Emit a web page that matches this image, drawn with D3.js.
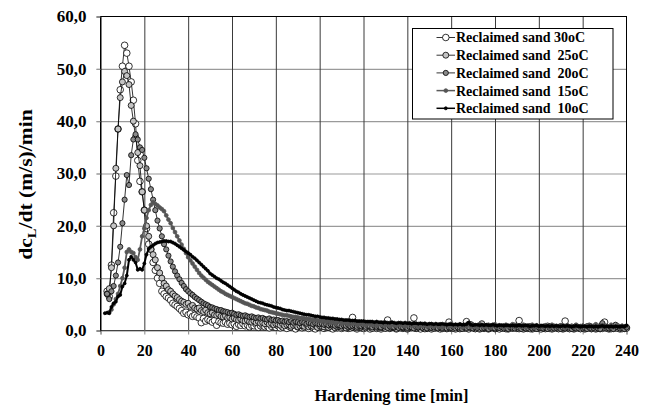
<!DOCTYPE html>
<meta charset="utf-8">
<style>

body {
  margin: 0;
  background: #fff;
}

svg {
  font-family: "Liberation Serif", "Times New Roman", serif;
  font-weight: bold;
}

.axis text {
  fill: #000;
  font-family: "Liberation Serif", "Times New Roman", serif;
  font-weight: bold;
}

.x.axis text {
  font-size: 16px;
}

.y.axis text {
  font-size: 17px;
}

.grid text {
  display: none;
}

.grid path {
  stroke: none;
}

.legend text {
  font-size: 14px;
  white-space: pre;
}

</style>
<body>
<script src="https://cdn.jsdelivr.net/npm/d3@7"></script>
<script>

// dc_L/dt readings, one value per minute, starting at the given minute
var start30 = 3;
var sand30 = [
  7.5, 6.5, 12.5, 22.5, 29.5, 38.5, 46, 50.5, 54.5, 53,
  50.5, 47.5, 44, 39.5, 32.5, 28.5, 26.5, 23, 19.5, 16.5,
  15.5, 13, 11.5, 10, 9, 7.5, 7, 6.5, 6.2, 5.8,
  5.2, 4.9, 4.6, 4.2, 3.8, 3.3, 3.5, 3.0, 3.2, 2.7,
  2.9, 2.6, 2.4, 1.5, 2.3, 1.8, 2.1, 1.9, 1.6, 1.9,
  1.0, 1.7, 1.5, 1.4, 1.6, 1.2, 1.4, 1.1, 1.3, 0.8,
  1.2, 1.0, 1.3, 0.9, 1.1, 0.7, 1.0, 0.9, 1.2, 0.6,
  0.9, 1.0, 0.7, 0.9, 0.5, 0.8, 1.0, 0.6,
  0.9, 0.5, 0.7, 1.1, 0.4, 0.8, 0.6, 0.9, 0.3, 0.7, 1.0, 0.5, 0.6, 0.8, 0.4, 0.9, 0.5, 0.3, 0.7, 0.6,
  0.8, 0.4, 0.6, 0.9, 0.5, 0.3, 0.7, 0.5, 0.8, 0.4, 0.6, 0.9, 0.4, 0.5, 2.5, 0.6, 0.3, 0.7, 0.5, 0.4,
  0.8, 0.6, 0.3, 0.5, 0.9, 0.4, 0.6, 0.3, 0.7, 0.5, 2.0, 0.4, 0.6, 0.8, 0.3, 0.5, 0.7, 0.4, 0.6, 0.3,
  0.5, 0.8, 2.4, 0.4, 0.6, 0.3, 0.7, 0.5, 0.4, 0.8, 0.3, 0.6, 0.5, 0.7, 0.3, 0.4, 0.6, 0.8, 1.6, 0.4,
  0.5, 0.3, 0.7, 0.4, 0.6, 0.5, 1.7, 0.3, 0.6, 0.8, 0.4, 0.5, 0.3, 0.7, 0.4, 0.6, 0.3, 0.5, 0.8, 0.4,
  0.6, 0.3, 0.5, 0.7, 0.4, 0.3, 0.6, 0.5, 0.8, 0.4, 1.9, 0.5, 0.3, 0.6, 0.4, 0.7, 0.3, 0.5, 0.6, 0.4,
  0.3, 0.6, 0.5, 0.8, 0.4, 0.3, 0.6, 0.5, 0.4, 0.7, 0.3, 1.8, 0.5, 0.4, 0.6, 0.3, 0.7, 0.5, 0.4, 0.6,
  0.3, 0.5, 0.8, 0.4, 0.6, 0.3, 0.5, 0.7, 0.4, 1.6, 0.5, 0.3, 0.6, 0.4, 0.7, 0.5, 0.3, 0.6, 0.4, 0.5
];

var start25 = 3;
var sand25 = [
  7, 8, 12, 20, 31, 38.5, 44.5, 47.5, 49.5, 48.7,
  47, 43, 40, 37, 34, 31.5, 26.5, 23, 20, 18,
  15.5, 14.5, 13.5, 12, 11, 10, 9, 8.5, 7.8, 7.5,
  7, 6.6, 6.3, 5.9, 5.6, 5.4, 5.0, 5.2, 4.6, 4.8,
  4.3, 4.1, 4.3, 3.8, 3.6, 3.9, 3.4, 3.2, 3.4, 3.0,
  2.9, 3.1, 2.7, 2.6, 2.8, 2.4, 2.5, 2.2, 2.4, 2.1,
  2.0, 2.2, 1.9, 1.8, 2.0, 1.7, 1.6, 1.8, 1.5, 1.7,
  1.4, 1.5, 1.3, 1.6, 1.2, 1.4, 1.1, 1.3,
  1.2, 1.0, 1.3, 0.9, 1.1, 1.2, 0.8, 1.0, 1.1, 0.7, 0.9, 1.0, 0.8, 1.1, 0.7, 0.9, 0.8, 1.0, 0.6, 0.9,
  0.8, 0.7, 1.0, 0.6, 0.8, 0.9, 0.5, 0.7, 0.8, 0.6, 0.9, 0.5, 0.7, 0.8, 0.6, 0.7, 0.5, 0.8, 0.6, 0.7,
  0.5, 0.8, 0.6, 0.4, 0.7, 0.6, 0.8, 0.5, 0.6, 0.4, 0.7, 0.5, 0.8, 0.6, 0.4, 0.7, 0.5, 0.6, 0.8, 0.4,
  0.6, 0.5, 0.7, 0.4, 0.6, 0.8, 0.5, 0.3, 0.6, 0.7, 0.5, 0.4, 0.6, 0.5, 0.8, 0.4, 0.6, 0.3, 0.5, 0.7,
  0.4, 0.6, 0.5, 0.3, 0.7, 0.5, 0.4, 1.2, 0.6, 0.5, 0.3, 0.6, 0.4, 1.3, 0.5, 0.7, 0.4, 0.5, 0.6, 0.3,
  0.5, 0.7, 0.4, 0.6, 0.3, 0.5, 0.6, 0.4, 0.7, 0.5, 0.3, 0.6, 0.5, 0.4, 0.7, 0.3, 0.5, 0.6, 0.4, 0.5,
  0.6, 0.4, 0.3, 0.5, 0.7, 0.4, 0.6, 0.5, 0.3, 0.6, 0.4, 0.5, 0.7, 0.3, 0.5, 0.4, 0.6, 0.5, 0.3, 0.6,
  0.4, 0.5, 0.7, 0.3, 0.6, 0.4, 0.5, 0.3, 1.1, 0.6, 0.4, 0.5, 0.3, 0.6, 0.5, 0.4, 0.6, 0.3, 0.5, 0.4
];

var start20 = 3;
var sand20 = [
  7, 6, 7.5, 8.5, 10.5, 13, 16, 20.5, 25, 29.7,
  27.8, 33.5, 36.5, 37.5, 36.5, 35, 34.5, 33, 31, 29,
  27, 25, 23, 21, 19.5, 18, 16.5, 15.5, 14.3, 13.2,
  12.2, 11.3, 10.5, 9.8, 9.1, 8.5, 7.9, 7.5, 7.1, 6.8,
  6.4, 6.1, 5.8, 5.5, 5.2, 5.0, 4.8, 4.5, 4.4, 4.2,
  4.1, 3.9, 3.9, 3.7, 3.6, 3.5, 3.3, 3.4, 3.2, 3.0,
  3.1, 2.9, 2.8, 2.9, 2.7, 2.6, 2.7, 2.5, 2.4, 2.5,
  2.3, 2.4, 2.2, 2.1, 2.3, 2.0, 2.1, 1.9,
  2.0, 1.8, 1.9, 1.7, 1.8, 1.6, 1.8, 1.5, 1.7, 1.6, 1.4, 1.6, 1.5, 1.3, 1.5, 1.4, 1.2, 1.4, 1.3, 1.2,
  1.3, 1.1, 1.2, 1.0, 1.2, 1.1, 0.9, 1.1, 1.0, 0.8, 1.0, 0.9, 1.1, 0.8, 0.9, 1.0, 0.7, 0.9, 0.8, 1.0,
  0.7, 0.9, 0.8, 0.6, 0.9, 0.7, 0.8, 0.6, 0.9, 0.7, 0.5, 0.8, 0.7, 0.6, 0.8, 0.5, 0.7, 0.6, 0.8, 0.5,
  0.7, 0.6, 0.4, 0.7, 0.6, 0.8, 0.5, 0.6, 0.4, 0.7, 0.5, 0.6, 0.8, 0.4, 0.6, 0.5, 0.7, 0.4, 0.6, 0.5,
  0.7, 0.4, 0.6, 0.5, 0.3, 0.6, 0.5, 0.7, 1.2, 0.4, 0.6, 0.5, 0.7, 0.4, 0.5, 0.6, 0.3, 0.6, 0.5, 0.4,
  0.6, 0.5, 0.7, 0.4, 0.5, 0.3, 0.6, 0.5, 0.4, 0.7, 0.5, 0.3, 0.6, 0.4, 0.5, 0.7, 0.4, 0.5, 0.3, 0.6,
  0.5, 0.4, 0.6, 0.3, 0.5, 0.7, 0.4, 0.5, 0.6, 0.3, 0.5, 0.4, 0.6, 0.5, 0.3, 0.6, 0.4, 0.5, 0.7, 0.4,
  0.5, 0.3, 0.6, 0.4, 0.5, 0.7, 0.4, 0.3, 1.4, 0.5, 0.6, 0.4, 0.5, 0.3, 1.1, 0.6, 0.4, 0.5, 0.3, 0.6
];

var start15 = 4;
var sand15 = [
  3.5, 4, 5, 6, 7, 8.5, 10, 12, 15, 15.5,
  15, 14.8, 14, 13.5, 15.5, 18, 19.5, 21.5, 23, 24,
  24.5, 24.2, 23.9, 23.5, 23.2, 22.8, 22, 21.2, 20.5, 19.6,
  18.8, 18, 17.2, 16.4, 15.6, 14.8, 14.0, 13.4, 12.8, 12.2,
  11.6, 11.0, 10.5, 10.1, 9.7, 9.3, 9.0, 8.7, 8.4, 8.1,
  7.8, 7.5, 7.3, 7.0, 6.8, 6.6, 6.4, 6.2, 6.0, 5.8,
  5.6, 5.4, 5.2, 5.1, 4.9, 4.7, 4.6, 4.4, 4.3, 4.1,
  4.0, 3.9, 3.8, 3.6, 3.5, 3.4, 3.3, 3.2, 3.1, 3.0,
  2.9, 2.9, 2.8, 2.7, 2.6, 2.6, 2.5, 2.4, 2.4, 2.3,
  2.2, 2.2, 2.1, 2.0, 2.1, 1.9, 1.9, 1.8, 1.9, 1.7,
  1.9, 1.5, 1.8, 1.4, 1.7, 1.9, 1.3, 1.6, 1.5, 1.2,
  1.6, 1.3, 1.5, 1.1, 1.4, 1.6, 1.2, 1.0, 1.4, 1.3,
  1.1, 1.4, 0.9, 1.3, 1.2, 1.5, 1.0, 1.2, 0.8, 1.3,
  1.1, 0.9, 1.3, 1.0, 1.2, 0.8, 1.1, 1.4, 0.9, 1.0,
  1.2, 0.7, 1.1, 0.9, 1.3, 0.8, 1.0, 1.2, 0.7, 1.1,
  0.9, 1.2, 0.6, 1.0, 1.1, 0.8, 1.3, 0.7, 1.0, 0.9,
  1.2, 0.6, 1.0, 0.8, 1.4, 0.7, 1.1, 0.9, 0.6, 1.2,
  0.8, 1.0, 0.7, 1.1, 0.5, 0.9, 1.2, 0.7, 1.0, 0.8,
  0.5, 1.1, 0.8, 0.9, 1.2, 0.6, 0.9, 1.0, 0.7, 1.1,
  0.6, 0.9, 0.8, 1.1, 0.5, 1.0, 0.7, 0.9, 0.6, 1.0,
  0.8, 0.5, 1.1, 0.7, 0.9, 0.6, 1.0, 0.8, 0.5, 1.0,
  0.7, 0.9, 0.6, 1.1, 0.8, 0.5, 0.9, 0.7, 1.0, 0.6,
  0.9, 0.7, 1.2, 0.6, 0.8, 1.0, 0.5, 0.9, 0.7, 1.1,
  0.6, 0.8, 1.0, 0.5, 0.9, 0.7, 0.8
];

var start10 = 2;
var sand10 = [
  3.3, 3.4, 3.3, 4.5, 5.2, 5.5, 6.5, 6.8, 8.4, 9.0,
  10.5, 13.5, 14.1, 13.5, 13.0, 11.6, 11.8, 11.6, 12.8, 14.5,
  15.6, 16.0, 16.3, 16.6, 16.8, 16.9, 17.0, 17.1, 17.1, 17.0,
  17.0, 16.8, 16.6, 16.3, 16.0, 15.7, 15.4, 15.1, 14.8, 14.5,
  14.1, 13.8, 13.4, 13.0, 12.6, 12.2, 11.8, 11.4, 10.9, 10.6,
  10.3, 10.0, 9.8, 9.5, 9.2, 9.0, 8.7, 8.4, 8.1, 7.8,
  7.5, 7.3, 7.0, 6.8, 6.6, 6.4, 6.2, 6.0, 5.8, 5.6,
  5.4, 5.3, 5.2, 5.0, 4.9, 4.8, 4.7, 4.5, 4.4, 4.3,
  4.2, 4.0, 3.9, 3.8, 3.8, 3.7, 3.6, 3.5, 3.4, 3.3,
  3.2, 3.1, 3.0, 3.0, 2.9, 2.8, 2.7, 2.7, 2.6, 2.5,
  2.5, 2.4, 2.4, 2.3, 2.3, 2.2, 2.2, 2.1, 2.1, 2.0,
  2.0, 2.0, 1.9, 1.9, 1.9, 1.8, 1.8, 1.8, 1.8, 1.7,
  1.7, 1.7, 1.7, 1.6, 1.7, 1.6, 1.6, 1.5, 1.6, 1.5,
  1.5, 1.6, 1.5, 1.4, 1.5, 1.5, 1.4, 1.5, 1.4, 1.4,
  1.3, 1.4, 1.4, 1.3, 1.4, 1.3, 1.3, 1.2, 1.3, 1.3,
  1.2, 1.3, 1.2, 1.2, 1.3, 1.2, 1.1, 1.2, 1.2, 1.1,
  1.2, 1.1, 1.2, 1.1, 1.1, 1.2, 1.5, 1.1, 1.0, 1.1,
  1.1, 1.0, 1.1, 1.0, 1.1, 1.0, 1.0, 1.1, 1.0, 0.9,
  1.0, 1.0, 0.9, 1.0, 1.0, 0.9, 1.0, 0.9, 0.9, 1.0,
  0.9, 0.9, 1.0, 0.9, 0.8, 0.9, 0.9, 1.0, 0.8, 0.9,
  0.9, 0.8, 0.9, 0.8, 0.9, 0.8, 0.9, 0.8, 0.8, 0.9,
  0.8, 0.9, 0.8, 0.7, 0.8, 0.9, 0.8, 0.7, 0.8, 0.8,
  0.7, 0.8, 0.8, 0.7, 0.8, 0.7, 0.8, 0.9, 0.7, 0.8,
  0.7, 0.8, 0.7, 0.8, 0.7, 0.7, 0.8, 0.7, 1.0
];

var legendLabels = [
  "Reclaimed sand 30oC",
  "Reclaimed sand  25oC",
  "Reclaimed sand  20oC",
  "Reclaimed sand  15oC",
  "Reclaimed sand  10oC"
];

var xTicks = [0, 20, 40, 60, 80, 100, 120, 140, 160, 180, 200, 220, 240];
var yTicks = [0, 10, 20, 30, 40, 50, 60];

// marker / line look for each series, same order as legendLabels
var styles = [
  {r: 3.3, fill: "#fff",    stroke: "#000", line: "#000",    lw: 0.8},
  {r: 3.0, fill: "#c4c4c4", stroke: "#000", line: "#000",    lw: 0.8},
  {r: 2.6, fill: "#8a8a8a", stroke: "#000", line: "#000",    lw: 0.8},
  {r: 1.9, fill: "#555",    stroke: "#555", line: "#5a5a5a", lw: 1.8},
  {r: 1.5, fill: "#000",    stroke: "#000", line: "#000",    lw: 2}
];

function toPoints(start, values) {
  return values.map(function(v, i) { return {t: start + i, v: v}; });
}

var series = [
  toPoints(start30, sand30),
  toPoints(start25, sand25),
  toPoints(start20, sand20),
  toPoints(start15, sand15),
  toPoints(start10, sand10)
];

var margin = {top: 16.5, right: 25.5, bottom: 74.5, left: 100.5},
    width = 652 - margin.left - margin.right,
    height = 405 - margin.top - margin.bottom;

var x = d3.scaleLinear()
    .domain([0, 240])
    .range([0, width]);

var y = d3.scaleLinear()
    .domain([0, 60])
    .range([height, 0]);

var svg = d3.select("body").append("svg")
    .attr("width", 652)
    .attr("height", 405)
  .append("g")
    .attr("transform", "translate(" + margin.left + "," + margin.top + ")");

// horizontal grid (grey), sticking out 4px left of the axis as ticks
svg.append("g")
    .attr("class", "grid")
    .call(d3.axisLeft(y)
        .tickValues(yTicks.slice(1, -1))
        .tickSize(-(width + 4))
        .tickFormat(""))
    .attr("transform", "translate(-4,0)")
    .selectAll(".tick line")
    .attr("stroke", "#9a9a9a")
    .attr("stroke-width", 1.2)
    .attr("x1", 0);

// vertical grid (dark)
svg.append("g")
    .attr("class", "grid")
    .call(d3.axisBottom(x)
        .tickValues(xTicks.slice(1, -1))
        .tickSize(-height)
        .tickFormat(""))
    .attr("transform", "translate(0," + height + ")")
    .selectAll(".tick line")
    .attr("stroke", "#3a3a3a")
    .attr("stroke-width", 1);

// frame
svg.append("rect")
    .attr("width", width)
    .attr("height", height)
    .attr("fill", "none")
    .attr("stroke", "#000")
    .attr("stroke-width", 1);

var xAxis = d3.axisBottom(x)
    .tickValues(xTicks)
    .tickSize(4)
    .tickPadding(10)
    .tickFormat(function(d) { return d; });

var yAxis = d3.axisLeft(y)
    .tickValues(yTicks)
    .tickSize(4)
    .tickPadding(10)
    .tickFormat(function(d) { return d3.format(".1f")(d).replace(".", ","); });

var gx = svg.append("g")
    .attr("class", "x axis")
    .attr("transform", "translate(0," + height + ")")
    .call(xAxis);
gx.selectAll("path, line").attr("stroke", "#888");

var gy = svg.append("g")
    .attr("class", "y axis")
    .call(yAxis);
gy.select(".domain").attr("stroke", "#000");
gy.selectAll(".tick line").attr("stroke", "#999");

var line = d3.line()
    .x(function(d) { return x(d.t); })
    .y(function(d) { return y(d.v); });

// series in legend order, so the colder runs sit on top
series.forEach(function(pts, k) {
  var s = styles[k];
  svg.append("path")
      .datum(pts)
      .attr("d", line)
      .attr("fill", "none")
      .attr("stroke", s.line)
      .attr("stroke-width", s.lw);

  svg.append("g").selectAll("circle")
      .data(pts)
    .enter().append("circle")
      .attr("cx", function(d) { return x(d.t); })
      .attr("cy", function(d) { return y(d.v); })
      .attr("r", s.r)
      .attr("fill", s.fill)
      .attr("stroke", s.stroke)
      .attr("stroke-width", 0.8);
});

// legend
var legend = d3.select("svg").append("g")
    .attr("class", "legend");

legend.append("rect")
    .attr("x", 412.5)
    .attr("y", 28.5)
    .attr("width", 200.5)
    .attr("height", 90.5)
    .attr("fill", "#fff")
    .attr("stroke", "#000")
    .attr("stroke-width", 1);

var rows = legend.selectAll(".row")
    .data(legendLabels)
  .enter().append("g")
    .attr("class", "row")
    .attr("transform", function(d, i) { return "translate(0," + (37.5 + i * 17.7) + ")"; });

rows.append("line")
    .attr("x1", 436.5)
    .attr("x2", 455)
    .attr("stroke", function(d, i) { return styles[i].line; })
    .attr("stroke-width", function(d, i) { return Math.min(styles[i].lw, 1.5); });

rows.append("circle")
    .attr("cx", 445.8)
    .attr("r", function(d, i) { return styles[i].r; })
    .attr("fill", function(d, i) { return styles[i].fill; })
    .attr("stroke", function(d, i) { return styles[i].stroke; })
    .attr("stroke-width", 0.8);

rows.append("text")
    .attr("x", 456)
    .attr("dy", "0.35em")
    .text(function(d) { return d; });

// axis titles
d3.select("svg").append("text")
    .attr("x", 391.5)
    .attr("y", 400.5)
    .attr("text-anchor", "middle")
    .style("font-size", "16.5px")
    .text("Hardening time [min]");

var ytitle = d3.select("svg").append("text")
    .attr("transform", "translate(32,184.5) rotate(-90) scale(1.2,1)")
    .attr("text-anchor", "middle")
    .style("font-size", "18px");
ytitle.append("tspan").text("dc");
ytitle.append("tspan")
    .attr("dy", 4)
    .style("font-size", "12px")
    .text("L");
ytitle.append("tspan")
    .attr("dy", -4)
    .text("/dt (m/s)/min");

</script>
